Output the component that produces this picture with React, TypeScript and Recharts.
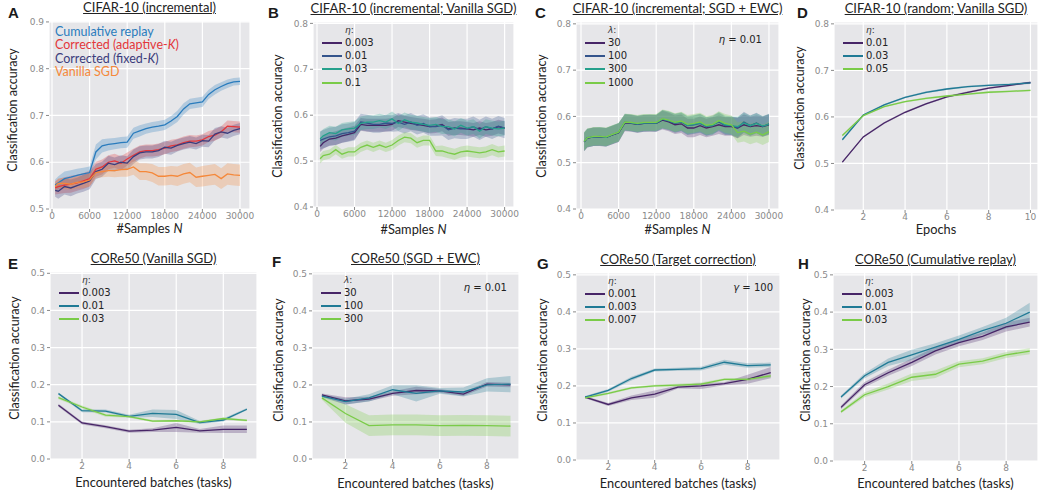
import React from "react";
import { ComposedChart, Line, Area, XAxis, YAxis, CartesianGrid } from "recharts";

// ---- x values ----
const samplesN = [500, 1000, 2000, 3000, 4000, 5000, 6000, 7000, 8000, 9000, 10000, 11000, 12000, 13000, 14000, 15000, 16000, 17000, 18000, 19000, 20000, 21000, 22000, 23000, 24000, 25000, 26000, 27000, 28000, 29000, 30000];
const epochs = [1, 2, 3, 4, 5, 6, 7, 8, 9, 10];
const batches = [1, 2, 3, 4, 5, 6, 7, 8, 9];

// ---- A: CIFAR-10 (incremental) ----
const aReplay = [0.551, 0.556, 0.565, 0.568, 0.572, 0.575, 0.578, 0.622, 0.635, 0.638, 0.64, 0.642, 0.643, 0.662, 0.667, 0.672, 0.675, 0.677, 0.68, 0.688, 0.698, 0.714, 0.725, 0.727, 0.729, 0.745, 0.755, 0.762, 0.768, 0.772, 0.773];
const aReplaySd = [0.012, 0.014, 0.015, 0.015, 0.014, 0.013, 0.013, 0.016, 0.014, 0.013, 0.012, 0.012, 0.012, 0.012, 0.012, 0.011, 0.011, 0.011, 0.011, 0.011, 0.012, 0.012, 0.011, 0.011, 0.011, 0.01, 0.01, 0.009, 0.009, 0.008, 0.008];
const aAdaptive = [0.545, 0.548, 0.551, 0.553, 0.556, 0.56, 0.565, 0.585, 0.59, 0.6, 0.603, 0.598, 0.607, 0.615, 0.622, 0.625, 0.625, 0.627, 0.63, 0.635, 0.637, 0.642, 0.645, 0.645, 0.648, 0.655, 0.658, 0.665, 0.677, 0.676, 0.675];
const aAdaptiveSd = [0.014, 0.016, 0.017, 0.018, 0.017, 0.017, 0.017, 0.016, 0.016, 0.015, 0.015, 0.015, 0.014, 0.014, 0.014, 0.013, 0.013, 0.013, 0.013, 0.013, 0.013, 0.013, 0.013, 0.012, 0.012, 0.012, 0.012, 0.012, 0.012, 0.012, 0.012];
const aFixed = [0.54, 0.538, 0.548, 0.545, 0.55, 0.555, 0.56, 0.58, 0.585, 0.598, 0.595, 0.6, 0.598, 0.612, 0.62, 0.622, 0.622, 0.625, 0.632, 0.63, 0.636, 0.64, 0.643, 0.64, 0.646, 0.645, 0.66, 0.665, 0.662, 0.668, 0.672];
const aFixedSd = [0.014, 0.016, 0.017, 0.018, 0.017, 0.018, 0.018, 0.016, 0.016, 0.016, 0.015, 0.015, 0.015, 0.015, 0.014, 0.014, 0.014, 0.014, 0.014, 0.014, 0.013, 0.013, 0.013, 0.013, 0.013, 0.013, 0.013, 0.012, 0.012, 0.012, 0.012];
const aVanilla = [0.548, 0.555, 0.555, 0.553, 0.557, 0.558, 0.562, 0.578, 0.58, 0.582, 0.582, 0.584, 0.585, 0.59, 0.58, 0.58, 0.577, 0.57, 0.57, 0.572, 0.57, 0.575, 0.578, 0.568, 0.57, 0.572, 0.574, 0.565, 0.575, 0.573, 0.572];
const aVanillaSd = [0.01, 0.011, 0.012, 0.012, 0.013, 0.013, 0.014, 0.012, 0.012, 0.013, 0.014, 0.015, 0.016, 0.017, 0.018, 0.018, 0.019, 0.02, 0.02, 0.02, 0.021, 0.021, 0.021, 0.021, 0.022, 0.022, 0.022, 0.022, 0.023, 0.023, 0.023];

// ---- B: CIFAR-10 (incremental; Vanilla SGD) ----
const bEta003 = [0.532, 0.54, 0.548, 0.55, 0.555, 0.558, 0.562, 0.58, 0.578, 0.578, 0.578, 0.578, 0.58, 0.588, 0.585, 0.582, 0.58, 0.578, 0.575, 0.576, 0.58, 0.57, 0.572, 0.572, 0.57, 0.568, 0.572, 0.568, 0.57, 0.575, 0.572];
const bEta003Sd = [0.012, 0.013, 0.014, 0.015, 0.015, 0.015, 0.015, 0.014, 0.014, 0.014, 0.014, 0.014, 0.014, 0.014, 0.014, 0.014, 0.014, 0.014, 0.015, 0.015, 0.015, 0.015, 0.015, 0.015, 0.015, 0.015, 0.015, 0.015, 0.015, 0.015, 0.015];
const bEta01 = [0.545, 0.548, 0.553, 0.555, 0.56, 0.562, 0.565, 0.585, 0.583, 0.58, 0.58, 0.583, 0.582, 0.585, 0.58, 0.585, 0.578, 0.582, 0.575, 0.575, 0.578, 0.568, 0.572, 0.57, 0.57, 0.575, 0.568, 0.575, 0.57, 0.576, 0.572];
const bEta01Sd = [0.02, 0.02, 0.02, 0.02, 0.02, 0.02, 0.02, 0.018, 0.018, 0.018, 0.018, 0.018, 0.018, 0.02, 0.02, 0.02, 0.02, 0.02, 0.02, 0.02, 0.022, 0.022, 0.022, 0.022, 0.022, 0.022, 0.022, 0.022, 0.022, 0.022, 0.022];
const bEta03 = [0.548, 0.555, 0.562, 0.56, 0.568, 0.57, 0.572, 0.582, 0.585, 0.585, 0.588, 0.585, 0.592, 0.582, 0.59, 0.585, 0.583, 0.58, 0.578, 0.58, 0.575, 0.575, 0.57, 0.578, 0.572, 0.575, 0.565, 0.575, 0.572, 0.57, 0.572];
const bEta03Sd = [0.015, 0.015, 0.015, 0.015, 0.015, 0.015, 0.015, 0.015, 0.015, 0.015, 0.015, 0.015, 0.016, 0.016, 0.016, 0.016, 0.016, 0.016, 0.016, 0.016, 0.016, 0.016, 0.016, 0.016, 0.016, 0.016, 0.016, 0.016, 0.016, 0.016, 0.016];
const bEta1 = [0.505, 0.512, 0.515, 0.525, 0.515, 0.52, 0.52, 0.53, 0.535, 0.53, 0.535, 0.53, 0.535, 0.545, 0.552, 0.55, 0.54, 0.545, 0.545, 0.522, 0.522, 0.518, 0.515, 0.52, 0.522, 0.52, 0.518, 0.52, 0.525, 0.52, 0.522];
const bEta1Sd = [0.01, 0.01, 0.01, 0.01, 0.01, 0.01, 0.01, 0.01, 0.01, 0.01, 0.01, 0.01, 0.011, 0.011, 0.011, 0.011, 0.011, 0.011, 0.011, 0.011, 0.012, 0.012, 0.012, 0.012, 0.012, 0.012, 0.012, 0.012, 0.012, 0.012, 0.012];

// ---- C: CIFAR-10 (incremental; SGD + EWC) ----
const cLam30 = [0.545, 0.553, 0.556, 0.556, 0.555, 0.56, 0.565, 0.586, 0.585, 0.583, 0.585, 0.585, 0.585, 0.592, 0.588, 0.582, 0.584, 0.575, 0.575, 0.58, 0.575, 0.578, 0.582, 0.578, 0.578, 0.575, 0.582, 0.578, 0.58, 0.578, 0.582];
const cLam100 = [0.545, 0.553, 0.556, 0.556, 0.555, 0.56, 0.565, 0.587, 0.586, 0.583, 0.585, 0.586, 0.585, 0.594, 0.59, 0.585, 0.588, 0.58, 0.582, 0.585, 0.578, 0.582, 0.588, 0.58, 0.58, 0.575, 0.588, 0.58, 0.586, 0.578, 0.584];
const cLam300 = [0.546, 0.554, 0.556, 0.557, 0.555, 0.561, 0.566, 0.588, 0.586, 0.584, 0.586, 0.586, 0.586, 0.594, 0.591, 0.586, 0.589, 0.581, 0.583, 0.586, 0.579, 0.58, 0.59, 0.582, 0.58, 0.578, 0.586, 0.58, 0.585, 0.579, 0.583];
const cLam1000 = [0.546, 0.554, 0.557, 0.557, 0.556, 0.561, 0.566, 0.588, 0.587, 0.585, 0.587, 0.587, 0.587, 0.595, 0.592, 0.587, 0.59, 0.583, 0.585, 0.588, 0.581, 0.583, 0.591, 0.585, 0.582, 0.565, 0.568, 0.562, 0.566, 0.56, 0.567];
const cSd = [0.02, 0.02, 0.02, 0.02, 0.02, 0.02, 0.02, 0.018, 0.018, 0.018, 0.018, 0.018, 0.018, 0.02, 0.02, 0.02, 0.02, 0.02, 0.02, 0.02, 0.02, 0.02, 0.02, 0.02, 0.02, 0.022, 0.022, 0.022, 0.022, 0.022, 0.022];
const cLam1000Sd = [0.02, 0.02, 0.02, 0.02, 0.02, 0.02, 0.02, 0.018, 0.018, 0.018, 0.018, 0.018, 0.018, 0.02, 0.02, 0.02, 0.02, 0.02, 0.02, 0.02, 0.02, 0.02, 0.02, 0.02, 0.02, 0.022, 0.022, 0.022, 0.022, 0.022, 0.022];

// ---- D: CIFAR-10 (random; Vanilla SGD) ----
const dEta01 = [0.503, 0.557, 0.587, 0.61, 0.628, 0.643, 0.653, 0.662, 0.668, 0.674];
const dEta03 = [0.551, 0.604, 0.626, 0.642, 0.653, 0.66, 0.665, 0.668, 0.67, 0.673];
const dEta05 = [0.56, 0.603, 0.622, 0.633, 0.64, 0.645, 0.649, 0.653, 0.655, 0.657];
const dSd = [0.002, 0.002, 0.002, 0.002, 0.002, 0.002, 0.002, 0.002, 0.002, 0.002];

// ---- E: CORe50 (Vanilla SGD) ----
const eEta003 = [0.145, 0.097, 0.087, 0.075, 0.078, 0.085, 0.076, 0.08, 0.08];
const eEta003Sd = [0.004, 0.004, 0.004, 0.004, 0.005, 0.012, 0.005, 0.01, 0.01];
const eEta01 = [0.176, 0.13, 0.129, 0.115, 0.123, 0.12, 0.098, 0.105, 0.134];
const eEta01Sd = [0.003, 0.004, 0.004, 0.004, 0.01, 0.012, 0.004, 0.004, 0.003];
const eEta03 = [0.165, 0.14, 0.118, 0.114, 0.102, 0.103, 0.1, 0.109, 0.104];
const eEta03Sd = [0.004, 0.004, 0.004, 0.003, 0.003, 0.003, 0.003, 0.003, 0.003];

// ---- F: CORe50 (SGD + EWC) ----
const fLam30 = [0.173, 0.157, 0.162, 0.177, 0.185, 0.184, 0.175, 0.202, 0.2];
const fLam30Sd = [0.004, 0.01, 0.006, 0.006, 0.01, 0.005, 0.005, 0.006, 0.006];
const fLam100 = [0.17, 0.155, 0.165, 0.187, 0.177, 0.184, 0.181, 0.2, 0.202];
const fLam100Sd = [0.004, 0.008, 0.01, 0.012, 0.022, 0.008, 0.012, 0.018, 0.022];
const fLam300 = [0.165, 0.123, 0.09, 0.092, 0.092, 0.09, 0.091, 0.09, 0.089];
const fLam300Sd = [0.005, 0.025, 0.028, 0.028, 0.028, 0.028, 0.028, 0.028, 0.028];

// ---- G: CORe50 (Target correction) ----
const gEta001 = [0.17, 0.15, 0.168, 0.178, 0.197, 0.2, 0.206, 0.218, 0.236];
const gEta001Sd = [0.003, 0.004, 0.006, 0.01, 0.004, 0.008, 0.004, 0.012, 0.015];
const gEta003 = [0.17, 0.188, 0.22, 0.243, 0.245, 0.247, 0.264, 0.255, 0.257];
const gEta003Sd = [0.003, 0.004, 0.005, 0.004, 0.004, 0.005, 0.007, 0.006, 0.006];
const gEta007 = [0.168, 0.18, 0.195, 0.2, 0.202, 0.205, 0.218, 0.218, 0.227];
const gEta007Sd = [0.003, 0.003, 0.003, 0.003, 0.004, 0.004, 0.003, 0.004, 0.004];

// ---- H: CORe50 (Cumulative replay) ----
const hEta003 = [0.144, 0.205, 0.237, 0.265, 0.296, 0.318, 0.335, 0.36, 0.373];
const hEta003Sd = [0.005, 0.007, 0.008, 0.01, 0.01, 0.01, 0.01, 0.012, 0.012];
const hEta01 = [0.172, 0.229, 0.265, 0.285, 0.306, 0.327, 0.35, 0.37, 0.4];
const hEta01Sd = [0.004, 0.007, 0.01, 0.014, 0.01, 0.01, 0.01, 0.015, 0.025];
const hEta03 = [0.132, 0.178, 0.2, 0.225, 0.233, 0.26, 0.268, 0.285, 0.295];
const hEta03Sd = [0.004, 0.007, 0.008, 0.01, 0.01, 0.008, 0.008, 0.008, 0.008];

// ticks
const sampleTicks = [0, 6000, 12000, 18000, 24000, 30000];
const epochTicks = [2, 4, 6, 8, 10];
const batchTicks = [2, 4, 6, 8];
const accTicksA = [0.5, 0.6, 0.7, 0.8, 0.9];
const accTicksTop = [0.4, 0.5, 0.6, 0.7, 0.8];
const accTicksCore = [0, 0.1, 0.2, 0.3, 0.4, 0.5];

const PURPLE = "#472567";
const NAVY = "#34548c";
const TEAL = "#26a08c";
const GREEN = "#7acb48";
const TEALBLUE = "#207a95";

const BG = "#e6e6e9";
const TICK = "#8a8a8a";
const LABEL_FONT = "Lato, 'Open Sans', sans-serif";
const NUM_FONT = "'DejaVu Sans', sans-serif";

type Series = { name: string; color: string; mean: number[]; sd: number[] };
type Panel = {
  letter: string;
  letterPos: [number, number];
  title: string;
  xs: number[];
  series: Series[];
  plot: { x: number; y: number; w: number; h: number };
  xDomain: [number, number];
  yDomain: [number, number];
  xTicks: number[];
  yTicks: number[];
  xLabel: React.ReactNode;
  xLabelY: number;
  yLabelX: number;
  yLabelY: number;
  legendTitle?: React.ReactNode;
  legendKind: "text" | "lines";
  note?: { text: React.ReactNode; right: number; y: number };
};

const sampleLabel = (
  <span>
    #Samples <i>N</i>
  </span>
);
const batchLabel = "Encountered batches (tasks)";

const panels: Panel[] = [
  {
    letter: "A", letterPos: [8, 5], title: "CIFAR-10 (incremental)", xs: samplesN,
    series: [
      { name: "Cumulative replay", color: "#2a7cbd", mean: aReplay, sd: aReplaySd },
      { name: "Corrected (adaptive-K)", color: "#e3373b", mean: aAdaptive, sd: aAdaptiveSd },
      { name: "Corrected (fixed-K)", color: "#3b3c7c", mean: aFixed, sd: aFixedSd },
      { name: "Vanilla SGD", color: "#f5883a", mean: aVanilla, sd: aVanillaSd },
    ],
    plot: { x: 49, y: 21, w: 201, h: 188 }, xDomain: [-480, 31600], yDomain: [0.5, 0.902],
    xTicks: sampleTicks, yTicks: accTicksA, xLabel: sampleLabel, xLabelY: 228, yLabelX: 13, yLabelY: 110,
    legendKind: "text",
  },
  {
    letter: "B", letterPos: [268, 5], title: "CIFAR-10 (incremental; Vanilla SGD)", xs: samplesN,
    series: [
      { name: "0.003", color: PURPLE, mean: bEta003, sd: bEta003Sd },
      { name: "0.01", color: NAVY, mean: bEta01, sd: bEta01Sd },
      { name: "0.03", color: TEAL, mean: bEta03, sd: bEta03Sd },
      { name: "0.1", color: GREEN, mean: bEta1, sd: bEta1Sd },
    ],
    plot: { x: 313, y: 22, w: 201, h: 185 }, xDomain: [-640, 31500], yDomain: [0.4, 0.803],
    xTicks: sampleTicks, yTicks: accTicksTop, xLabel: sampleLabel, xLabelY: 229, yLabelX: 278, yLabelY: 116,
    legendTitle: <i>η</i>, legendKind: "lines",
  },
  {
    letter: "C", letterPos: [535, 5], title: "CIFAR-10 (incremental; SGD + EWC)", xs: samplesN,
    series: [
      { name: "30", color: PURPLE, mean: cLam30, sd: cSd },
      { name: "100", color: NAVY, mean: cLam100, sd: cSd },
      { name: "300", color: TEAL, mean: cLam300, sd: cSd },
      { name: "1000", color: GREEN, mean: cLam1000, sd: cLam1000Sd },
    ],
    plot: { x: 576, y: 22, w: 203, h: 187 }, xDomain: [-800, 31600], yDomain: [0.4, 0.804],
    xTicks: sampleTicks, yTicks: accTicksTop, xLabel: sampleLabel, xLabelY: 229, yLabelX: 542, yLabelY: 116,
    legendTitle: <i>λ</i>, legendKind: "lines",
    note: { text: <span><i>η</i> = 0.01</span>, right: 762, y: 40 },
  },
  {
    letter: "D", letterPos: [797, 5], title: "CIFAR-10 (random; Vanilla SGD)", xs: epochs,
    series: [
      { name: "0.01", color: PURPLE, mean: dEta01, sd: dSd },
      { name: "0.03", color: TEALBLUE, mean: dEta03, sd: dSd },
      { name: "0.05", color: GREEN, mean: dEta05, sd: dSd },
    ],
    plot: { x: 834, y: 22, w: 204, h: 188 }, xDomain: [0.6, 10.36], yDomain: [0.4, 0.804],
    xTicks: epochTicks, yTicks: accTicksTop, xLabel: "Epochs", xLabelY: 229, yLabelX: 800, yLabelY: 108,
    legendTitle: <i>η</i>, legendKind: "lines",
  },
  {
    letter: "E", letterPos: [8, 256], title: "CORe50 (Vanilla SGD)", xs: batches,
    series: [
      { name: "0.003", color: PURPLE, mean: eEta003, sd: eEta003Sd },
      { name: "0.01", color: TEALBLUE, mean: eEta01, sd: eEta01Sd },
      { name: "0.03", color: GREEN, mean: eEta03, sd: eEta03Sd },
    ],
    plot: { x: 50, y: 272, w: 207, h: 187 }, xDomain: [0.64, 9.43], yDomain: [0, 0.5035],
    xTicks: batchTicks, yTicks: accTicksCore, xLabel: batchLabel, xLabelY: 482, yLabelX: 15, yLabelY: 358,
    legendTitle: <i>η</i>, legendKind: "lines",
  },
  {
    letter: "F", letterPos: [272, 254], title: "CORe50 (SGD + EWC)", xs: batches,
    series: [
      { name: "30", color: PURPLE, mean: fLam30, sd: fLam30Sd },
      { name: "100", color: TEALBLUE, mean: fLam100, sd: fLam100Sd },
      { name: "300", color: GREEN, mean: fLam300, sd: fLam300Sd },
    ],
    plot: { x: 312, y: 272, w: 207, h: 187 }, xDomain: [0.58, 9.36], yDomain: [0, 0.505],
    xTicks: batchTicks, yTicks: accTicksCore, xLabel: batchLabel, xLabelY: 483, yLabelX: 279, yLabelY: 360,
    legendTitle: <i>λ</i>, legendKind: "lines",
    note: { text: <span><i>η</i> = 0.01</span>, right: 507, y: 288 },
  },
  {
    letter: "G", letterPos: [537, 256], title: "CORe50 (Target correction)", xs: batches,
    series: [
      { name: "0.001", color: PURPLE, mean: gEta001, sd: gEta001Sd },
      { name: "0.003", color: TEALBLUE, mean: gEta003, sd: gEta003Sd },
      { name: "0.007", color: GREEN, mean: gEta007, sd: gEta007Sd },
    ],
    plot: { x: 576, y: 273, w: 204, h: 187 }, xDomain: [0.61, 9.4], yDomain: [0, 0.505],
    xTicks: batchTicks, yTicks: accTicksCore, xLabel: batchLabel, xLabelY: 483, yLabelX: 543, yLabelY: 360,
    legendTitle: <i>η</i>, legendKind: "lines",
    note: { text: <span><i>γ</i> = 100</span>, right: 773, y: 288 },
  },
  {
    letter: "H", letterPos: [798, 256], title: "CORe50 (Cumulative replay)", xs: batches,
    series: [
      { name: "0.003", color: PURPLE, mean: hEta003, sd: hEta003Sd },
      { name: "0.01", color: TEALBLUE, mean: hEta01, sd: hEta01Sd },
      { name: "0.03", color: GREEN, mean: hEta03, sd: hEta03Sd },
    ],
    plot: { x: 833, y: 273, w: 205, h: 188 }, xDomain: [0.66, 9.35], yDomain: [0, 0.505],
    xTicks: batchTicks, yTicks: accTicksCore, xLabel: batchLabel, xLabelY: 483, yLabelX: 806, yLabelY: 360,
    legendTitle: <i>η</i>, legendKind: "lines",
  },
];

const buildRows = (p: Panel) =>
  p.xs.map((x, i) => {
    const row: Record<string, any> = { x };
    p.series.forEach((s, j) => {
      row[`m${j}`] = s.mean[i];
      row[`b${j}`] = [s.mean[i] - s.sd[i], s.mean[i] + s.sd[i]];
    });
    return row;
  });

const PanelChart = ({ p }: { p: Panel }) => {
  const { plot } = p;
  const left = plot.x - 50;
  const top = plot.y - 10;
  const rows = buildRows(p);
  const abs = (x: number, y: number): React.CSSProperties => ({ position: "absolute", left: x, top: y });

  return (
    <>
      <div style={{ position: "absolute", left, top }}>
        <ComposedChart
          width={plot.w + 70}
          height={plot.h + 40}
          data={rows}
          margin={{ top: 10, right: 20, left: 10, bottom: 0 }}
        >
          <CartesianGrid fill={BG} stroke="#ffffff" strokeWidth={1.2} />
          <XAxis
            dataKey="x"
            type="number"
            domain={p.xDomain}
            ticks={p.xTicks}
            allowDataOverflow
            height={30}
            axisLine={false}
            tickSize={3}
            tickMargin={1}
            tickLine={{ stroke: TICK }}
            tick={{ fontSize: 9, fill: TICK, fontFamily: NUM_FONT }}
            interval={0}
          />
          <YAxis
            type="number"
            domain={p.yDomain}
            ticks={p.yTicks}
            allowDataOverflow
            width={40}
            axisLine={false}
            tickSize={3}
            tickMargin={2}
            tickLine={{ stroke: TICK }}
            tick={{ fontSize: 9, fill: TICK, fontFamily: NUM_FONT }}
            tickFormatter={(v: number) => v.toFixed(1)}
            interval={0}
          />
          {p.series.map((s, j) => (
            <Area
              key={`band-${j}`}
              dataKey={`b${j}`}
              type="linear"
              stroke="none"
              fill={s.color}
              fillOpacity={0.28}
              isAnimationActive={false}
              activeDot={false}
            />
          ))}
          {p.series.map((s, j) => (
            <Line
              key={`line-${j}`}
              dataKey={`m${j}`}
              type="linear"
              stroke={s.color}
              strokeWidth={1.3}
              dot={false}
              activeDot={false}
              isAnimationActive={false}
            />
          ))}
        </ComposedChart>
      </div>

      {/* panel letter */}
      <div
        style={{
          ...abs(p.letterPos[0], p.letterPos[1]),
          fontFamily: "'Liberation Sans', Arial, sans-serif",
          fontWeight: 700,
          fontSize: 15,
          lineHeight: "15px",
          color: "#1a1a1a",
        }}
      >
        {p.letter}
      </div>

      {/* title */}
      <div
        style={{
          position: "absolute",
          left: plot.x - 20,
          width: plot.w + 40,
          top: plot.y - 20,
          textAlign: "center",
          fontFamily: LABEL_FONT,
          fontSize: 13,
          lineHeight: "13px",
          color: "#222",
          textDecoration: "underline",
          whiteSpace: "nowrap",
        }}
      >
        {p.title}
      </div>

      {/* x label */}
      <div
        style={{
          position: "absolute",
          left: plot.x - 40,
          width: plot.w + 80,
          top: p.xLabelY - 6,
          textAlign: "center",
          fontFamily: LABEL_FONT,
          fontSize: 12.8,
          lineHeight: "13px",
          color: "#222",
          whiteSpace: "nowrap",
        }}
      >
        {p.xLabel}
      </div>

      {/* y label */}
      <div
        style={{
          position: "absolute",
          left: p.yLabelX - 80,
          top: p.yLabelY - 8,
          width: 160,
          height: 16,
          lineHeight: "16px",
          textAlign: "center",
          transform: "rotate(-90deg)",
          fontFamily: LABEL_FONT,
          fontSize: 12.5,
          color: "#222",
          whiteSpace: "nowrap",
        }}
      >
        Classification accuracy
      </div>

      {/* legend */}
      {p.legendKind === "text"
        ? p.series.map((s, j) => (
            <div
              key={`lt-${j}`}
              style={{
                ...abs(plot.x + 6, plot.y + 3 + j * 13.3),
                fontFamily: LABEL_FONT,
                fontSize: 12.5,
                lineHeight: "15px",
                color: s.color,
                whiteSpace: "nowrap",
              }}
            >
              {s.name.includes("-K") ? (
                <span>
                  {s.name.replace("K)", "")}
                  <i>K</i>)
                </span>
              ) : (
                s.name
              )}
            </div>
          ))
        : (
          <>
            <div
              style={{
                ...abs(plot.x + 32, plot.y + 2),
                fontFamily: NUM_FONT,
                fontSize: 9,
                lineHeight: "12px",
                color: "#333",
              }}
            >
              {p.legendTitle}:
            </div>
            {p.series.map((s, j) => {
              const cy = plot.y + 20.5 + j * 13.4;
              return (
                <React.Fragment key={`ll-${j}`}>
                  <div
                    style={{
                      position: "absolute",
                      left: plot.x + 9,
                      top: cy - 1,
                      width: 20,
                      height: 2,
                      background: s.color,
                    }}
                  />
                  <div
                    style={{
                      ...abs(plot.x + 32, cy - 7),
                      fontFamily: NUM_FONT,
                      fontSize: 10,
                      lineHeight: "14px",
                      color: "#222",
                    }}
                  >
                    {s.name}
                  </div>
                </React.Fragment>
              );
            })}
          </>
        )}

      {p.note && (
        <div
          style={{
            position: "absolute",
            left: p.note.right - 80,
            width: 80,
            top: p.note.y - 7,
            textAlign: "right",
            fontFamily: NUM_FONT,
            fontSize: 10,
            lineHeight: "14px",
            color: "#222",
            whiteSpace: "nowrap",
          }}
        >
          {p.note.text}
        </div>
      )}
    </>
  );
};

export default function App() {
  return (
    <div
      style={{
        position: "fixed",
        left: 0,
        top: 0,
        width: 1039,
        height: 492,
        background: "#fff",
        overflow: "hidden",
      }}
    >
      {panels.map((p) => (
        <PanelChart key={p.letter} p={p} />
      ))}
    </div>
  );
}
